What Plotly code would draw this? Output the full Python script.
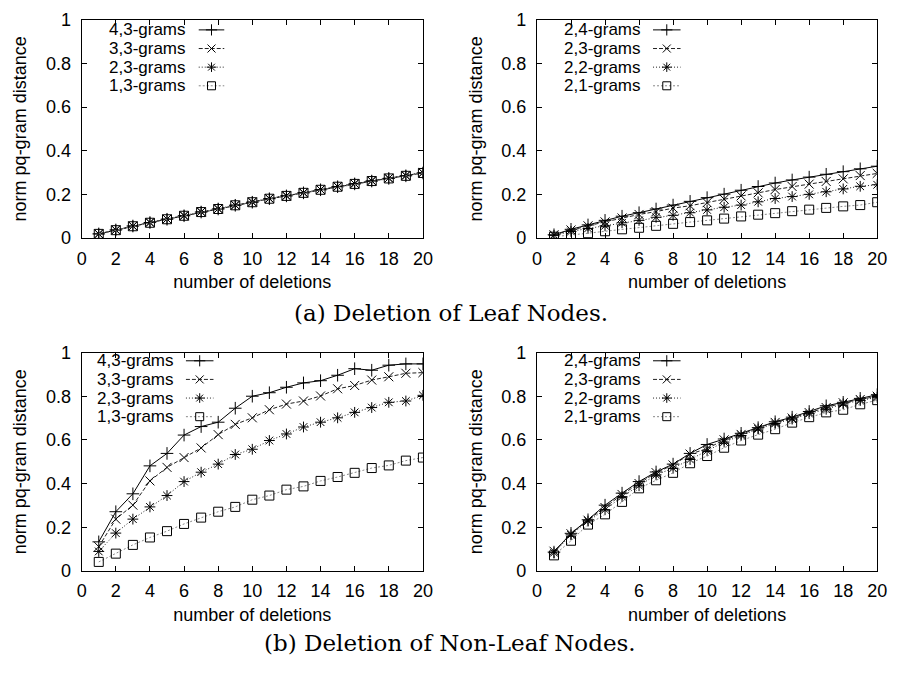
import plotly.graph_objects as go

deletions = list(range(1, 21))

# (a) Deletion of leaf nodes, left panel (p varies, q=3)
left_names = ["4,3-grams", "3,3-grams", "2,3-grams", "1,3-grams"]
a_left_43 = [0.019, 0.037, 0.055, 0.071, 0.086, 0.102, 0.119, 0.133, 0.150, 0.164,
             0.180, 0.193, 0.207, 0.221, 0.235, 0.248, 0.261, 0.273, 0.285, 0.298]
a_left_33 = [0.019, 0.037, 0.055, 0.071, 0.087, 0.102, 0.120, 0.134, 0.150, 0.165,
             0.181, 0.193, 0.207, 0.222, 0.236, 0.249, 0.262, 0.274, 0.286, 0.299]
a_left_23 = [0.019, 0.037, 0.055, 0.071, 0.087, 0.103, 0.120, 0.134, 0.151, 0.165,
             0.181, 0.194, 0.208, 0.222, 0.236, 0.249, 0.262, 0.274, 0.286, 0.299]
a_left_13 = [0.019, 0.036, 0.054, 0.070, 0.086, 0.102, 0.119, 0.133, 0.150, 0.164,
             0.180, 0.193, 0.207, 0.221, 0.235, 0.248, 0.261, 0.273, 0.285, 0.298]

# (a) right panel (p=2, q varies)
right_names = ["2,4-grams", "2,3-grams", "2,2-grams", "2,1-grams"]
a_right_24 = [0.015, 0.040, 0.060, 0.081, 0.100, 0.116, 0.133, 0.151, 0.168, 0.185,
              0.201, 0.219, 0.236, 0.252, 0.266, 0.279, 0.292, 0.304, 0.317, 0.329]
a_right_23 = [0.015, 0.037, 0.056, 0.074, 0.092, 0.108, 0.121, 0.137, 0.148, 0.162,
              0.178, 0.193, 0.207, 0.222, 0.236, 0.247, 0.259, 0.271, 0.286, 0.296]
a_right_22 = [0.012, 0.030, 0.044, 0.056, 0.070, 0.081, 0.095, 0.104, 0.116, 0.129,
              0.141, 0.151, 0.166, 0.181, 0.190, 0.200, 0.212, 0.225, 0.237, 0.244]
a_right_21 = [0.006, 0.013, 0.022, 0.031, 0.040, 0.047, 0.056, 0.065, 0.073, 0.081,
              0.089, 0.099, 0.107, 0.114, 0.123, 0.130, 0.138, 0.145, 0.151, 0.164]

# (b) Deletion of non-leaf nodes, left panel
b_left_43 = [0.133, 0.271, 0.353, 0.481, 0.538, 0.622, 0.661, 0.681, 0.745, 0.800,
             0.816, 0.841, 0.861, 0.871, 0.896, 0.926, 0.919, 0.942, 0.948, 0.948]
b_left_33 = [0.111, 0.237, 0.301, 0.412, 0.474, 0.519, 0.563, 0.624, 0.671, 0.701,
             0.738, 0.764, 0.778, 0.801, 0.834, 0.849, 0.874, 0.889, 0.905, 0.908]
b_left_23 = [0.089, 0.173, 0.237, 0.293, 0.345, 0.409, 0.452, 0.489, 0.533, 0.557,
             0.597, 0.627, 0.659, 0.681, 0.701, 0.726, 0.748, 0.772, 0.778, 0.804]
b_left_13 = [0.041, 0.079, 0.119, 0.153, 0.182, 0.215, 0.244, 0.271, 0.293, 0.326,
             0.345, 0.372, 0.387, 0.412, 0.430, 0.449, 0.471, 0.483, 0.505, 0.519]

# (b) right panel
b_right_24 = [0.086, 0.172, 0.234, 0.301, 0.356, 0.409, 0.453, 0.489, 0.538, 0.579,
              0.604, 0.630, 0.656, 0.683, 0.704, 0.730, 0.756, 0.772, 0.790, 0.807]
b_right_23 = [0.090, 0.170, 0.232, 0.290, 0.350, 0.400, 0.450, 0.485, 0.535, 0.560,
              0.600, 0.625, 0.655, 0.680, 0.700, 0.725, 0.748, 0.770, 0.785, 0.800]
b_right_22 = [0.083, 0.165, 0.228, 0.280, 0.340, 0.390, 0.440, 0.470, 0.510, 0.550,
              0.590, 0.620, 0.650, 0.675, 0.695, 0.720, 0.740, 0.765, 0.780, 0.795]
b_right_21 = [0.071, 0.138, 0.212, 0.259, 0.316, 0.378, 0.415, 0.449, 0.493, 0.526,
              0.564, 0.597, 0.624, 0.649, 0.679, 0.704, 0.726, 0.738, 0.763, 0.782]

x_ticks = list(range(0, 21, 2))
y_ticks = [0, 0.2, 0.4, 0.6, 0.8, 1]
y_tick_labels = ["0", "0.2", "0.4", "0.6", "0.8", "1"]
x_title = "number of deletions"
y_title = "norm pq-gram distance"
caption_a = "(a) Deletion of Leaf Nodes."
caption_b = "(b) Deletion of Non-Leaf Nodes."

# ---------------------------------------------------------------- styling
W, H = 900, 675
FONT = "Liberation Sans, Arial, sans-serif"
SERIF = "DejaVu Serif, Liberation Serif, serif"
FS = 18
LFS = 17

styles = [
    dict(dash="solid", color="black", symbol="cross-thin"),
    dict(dash="4px,2px", color="#222", symbol="x-thin"),
    dict(dash="1px,2px", color="#222", symbol="asterisk-open"),
    dict(dash="2px,2px", color="#888", symbol="square-open"),
]
MSIZE = 9

# panel boxes in pixels: (left, right, top, bottom)
# key layout per panel: text right edge, sample start/end, first row, row step
panels = [
    dict(ax="", box=(78, 425, 10, 235), names=left_names,
         series=[a_left_43, a_left_33, a_left_23, a_left_13],
         leg=(185, 197, 223, 20.5, 19.2)),
    dict(ax="2", box=(541, 887, 10, 235), names=right_names,
         series=[a_right_24, a_right_23, a_right_22, a_right_21],
         leg=(648, 659, 687, 20.5, 19.2)),
    dict(ax="3", box=(78, 425, 353, 578), names=left_names,
         series=[b_left_43, b_left_33, b_left_23, b_left_13],
         leg=(173, 184, 212, 361.5, 19.2)),
    dict(ax="4", box=(541, 887, 353, 578), names=right_names,
         series=[b_right_24, b_right_23, b_right_22, b_right_21],
         leg=(648, 659, 687, 361.5, 19.2)),
]

fig = go.Figure()
annotations = []
layout_axes = {}

for p in panels:
    xa, ya = "x" + p["ax"], "y" + p["ax"]
    for name, vals, st in zip(p["names"], p["series"], styles):
        fig.add_trace(go.Scatter(
            x=deletions, y=vals, name=name, mode="lines+markers",
            xaxis=xa, yaxis=ya, showlegend=False,
            line=dict(color=st["color"], width=1, dash=st["dash"]),
            marker=dict(symbol=st["symbol"], size=MSIZE, color="black",
                        line=dict(color="black", width=1)),
        ))
    l, r, t, b = p["box"]
    layout_axes["xaxis" + p["ax"]] = dict(
        domain=[l / W, r / W], anchor=ya, range=[0, 20], tickvals=x_ticks,
        ticks="inside", ticklen=5, tickcolor="black", showline=True,
        linecolor="black", linewidth=1, mirror="ticks", showgrid=False,
        zeroline=False, ticklabelstandoff=4,
        tickfont=dict(family=FONT, size=FS, color="black"),
        title=dict(text=x_title, font=dict(family=FONT, size=FS, color="black"),
                   standoff=7))
    layout_axes["yaxis" + p["ax"]] = dict(
        domain=[1 - b / H, 1 - t / H], anchor=xa, range=[0, 1], tickvals=y_ticks,
        ticktext=y_tick_labels, ticks="inside", ticklen=5, tickcolor="black",
        showline=True, linecolor="black", linewidth=1, mirror="ticks",
        showgrid=False, zeroline=False, ticklabelstandoff=6,
        tickfont=dict(family=FONT, size=FS, color="black"),
        title=dict(text=y_title, font=dict(family=FONT, size=FS, color="black"),
                   standoff=14))

    # gnuplot-style key: label, then line sample with marker
    tx, s0, s1, row0, step = p["leg"]
    for i, (name, st) in enumerate(zip(p["names"], styles)):
        yy = row0 + i * step
        annotations.append(dict(
            text=name, x=tx / W, y=1 - yy / H, xref="paper", yref="paper",
            xanchor="right", yanchor="middle", showarrow=False, borderpad=0,
            font=dict(family=FONT, size=LFS, color="black")))
        fig.add_trace(go.Scatter(
            x=[s0, s1], y=[yy, yy], mode="lines", xaxis="x5", yaxis="y5",
            showlegend=False, hoverinfo="skip",
            line=dict(color=st["color"], width=1, dash=st["dash"])))
        fig.add_trace(go.Scatter(
            x=[(s0 + s1) / 2], y=[yy], mode="markers", xaxis="x5", yaxis="y5",
            showlegend=False, hoverinfo="skip",
            marker=dict(symbol=st["symbol"], size=MSIZE - 1, color="black",
                        line=dict(color="black", width=1))))

annotations += [
    dict(text=caption_a, x=454 / W, y=1 - 312 / H, xref="paper", yref="paper",
         showarrow=False, xanchor="center", yanchor="middle",
         font=dict(family=SERIF, size=23, color="black")),
    dict(text=caption_b, x=453 / W, y=1 - 652 / H, xref="paper", yref="paper",
         showarrow=False, xanchor="center", yanchor="middle",
         font=dict(family=SERIF, size=23, color="black")),
]

fig.update_layout(
    width=W, height=H, margin=dict(l=0, r=0, t=0, b=0),
    paper_bgcolor="white", plot_bgcolor="rgba(0,0,0,0)", showlegend=False,
    xaxis5=dict(domain=[0, 1], range=[0, W], visible=False, anchor="y5",
                fixedrange=True),
    yaxis5=dict(domain=[0, 1], range=[H, 0], visible=False, anchor="x5",
                fixedrange=True),
    annotations=annotations,
    **layout_axes,
)

fig.write_html("out.html")
